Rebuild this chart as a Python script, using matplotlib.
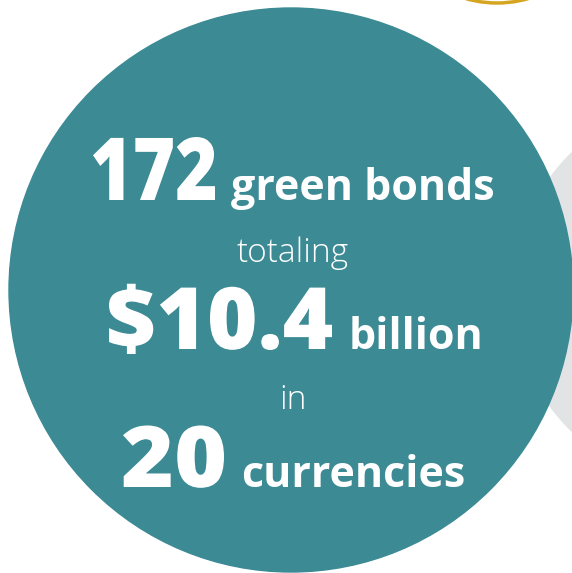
import matplotlib.pyplot as plt
from matplotlib.patches import Circle, PathPatch
from matplotlib.textpath import TextPath
from matplotlib.font_manager import FontProperties
from matplotlib.transforms import Affine2D

# text content of the infographic
big_numbers = ['172', '$10.4', '20']
big_labels = ['green bonds', 'billion', 'currencies']
small_words = ['totaling', 'in']

teal = '#3b8a94'
gray = '#e2e3e5'
gold = '#d6a520'

fig = plt.figure(figsize=(5.72, 5.73), dpi=100)
ax = fig.add_axes([0, 0, 1, 1])
ax.set_xlim(0, 572)
ax.set_ylim(573, 0)
ax.set_aspect('equal')
ax.axis('off')

# background shapes
ax.add_patch(Circle((707, 292), 194, color=gray, zorder=1))
ax.add_patch(Circle((497, -110), 113, fill=False, edgecolor=gold, linewidth=2.5, zorder=1))
ax.add_patch(Circle((291, 290), 282, color=teal, zorder=2))

font = 'Open Sans'


def draw_number(s, x0, x1, baseline, em):
    # big numbers are set in a narrow heavy face: squeeze the glyphs to fit
    tp = TextPath((0, 0), s, size=em, prop=FontProperties(family=font, weight=800))
    bb = tp.get_extents()
    sx = (x1 - x0) / bb.width
    tr = Affine2D().translate(-bb.x0, 0).scale(sx, -1).translate(x0, baseline)
    ax.add_patch(PathPatch(tr.transform_path(tp), facecolor='white', lw=0, zorder=3))


lab_size = 31
small_size = 24

# rows: (number left, number right, label left, baseline, number em)
rows = [(93, 215, 231, 200, 87), (109, 332, 349, 349, 86), (123, 224, 241, 487, 85)]
for (xn0, xn1, xl, yb, em), num, lab in zip(rows, big_numbers, big_labels):
    draw_number(num, xn0, xn1, yb, em)
    ax.text(xl, yb, lab, color='white', fontsize=lab_size, fontweight='bold',
            family=font, ha='left', va='baseline', zorder=3)

ax.text(293, 262, small_words[0], color='white', fontsize=small_size, fontweight='light',
        family=font, ha='center', va='baseline', zorder=3)
ax.text(293, 409, small_words[1], color='white', fontsize=small_size, fontweight='light',
        family=font, ha='center', va='baseline', zorder=3)

fig.savefig('out.png', dpi=100)
